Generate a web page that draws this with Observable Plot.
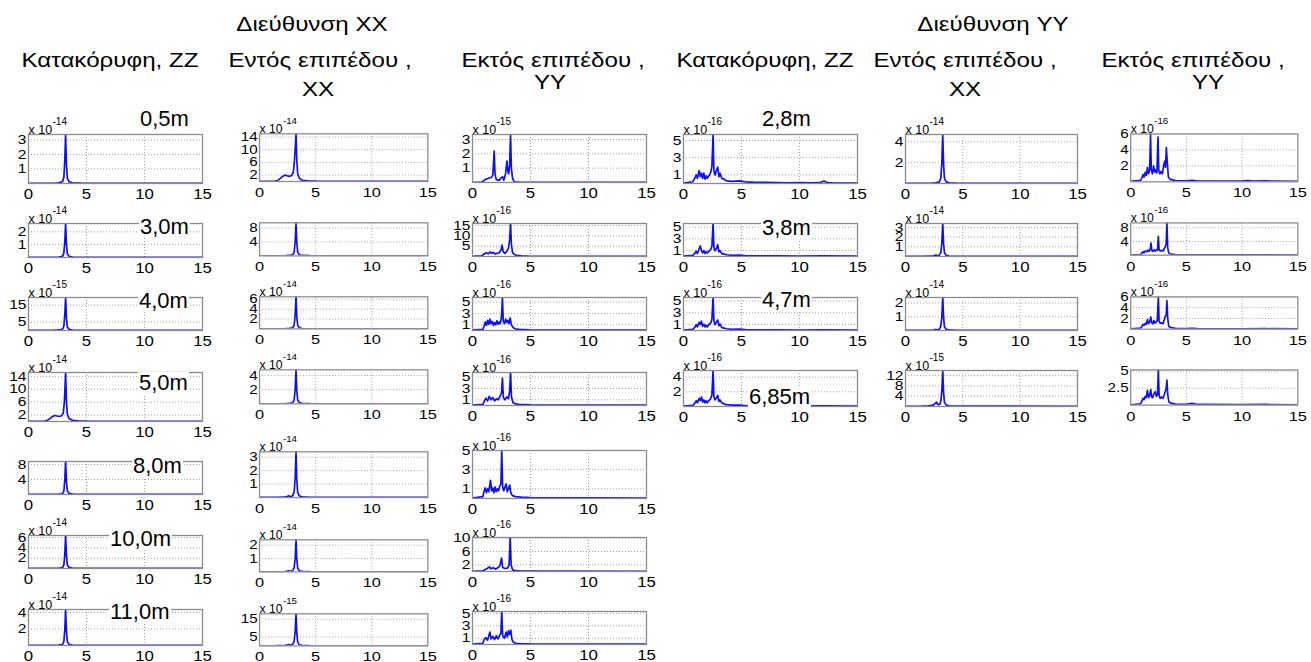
<!DOCTYPE html>
<html>
<head>
<meta charset="utf-8">
<script src="https://cdn.jsdelivr.net/npm/d3@7"></script>
<script src="https://cdn.jsdelivr.net/npm/@observablehq/plot@0.6"></script>
<style>
  html, body { margin: 0; padding: 0; background: #fff; overflow: hidden; }
  #fig { position: relative; width: 1311px; height: 662px; overflow: hidden; background: #fff;
         font-family: 'Liberation Sans', Arial, Helvetica, sans-serif; color: #000; }
  .hdr { position: absolute; width: 320px; text-align: center; font-size: 21px; line-height: 1; white-space: nowrap;
         transform: scaleX(1.15); transform-origin: center; }
  .lbl { position: absolute; font-size: 22px; line-height: 1; background: #fff; padding: 0 1px; white-space: nowrap; }
  .pw { position: absolute; overflow: hidden; }
</style>
</head>
<body>
<div id="fig"></div>
<script>
// ---------------- DATA ----------------
// frequency (Hz), amplitude in units of 10^exponent

// Direction XX — vertical ZZ
const xxZZ_05 = [[0,0.01],[1.5,0.01],[2.3,0.02],[2.6,0.05],[2.8,0.09],[2.95,0.14],[3.05,0.45],[3.13,1.6],[3.2,3.37],[3.27,1.3],[3.35,0.35],[3.5,0.12],[3.8,0.05],[4.5,0.02],[15,0.01]];
const xxZZ_30 = [[0,0.01],[1.5,0.01],[2.3,0.02],[2.6,0.04],[2.8,0.07],[2.95,0.11],[3.05,0.36],[3.13,1.25],[3.2,2.65],[3.27,1.0],[3.35,0.28],[3.5,0.1],[3.8,0.04],[4.5,0.02],[15,0.01]];
const xxZZ_40 = [[0,0.1],[1.5,0.15],[2.3,0.25],[2.6,0.4],[2.8,0.6],[2.95,0.9],[3.05,2.6],[3.13,9.5],[3.2,19.5],[3.27,7.5],[3.35,2.0],[3.5,0.7],[3.8,0.3],[4.5,0.15],[15,0.1]];
const xxZZ_50 = [[0,0.05],[1.3,0.08],[1.6,0.3],[1.85,0.9],[2.05,1.5],[2.25,1.85],[2.45,1.7],[2.65,1.55],[2.85,1.8],[3.0,2.6],[3.1,6.5],[3.2,15.2],[3.27,6.0],[3.35,2.2],[3.5,0.9],[3.8,0.35],[4.3,0.18],[5,0.1],[15,0.05]];
const xxZZ_80 = [[0,0.03],[1.5,0.04],[2.3,0.06],[2.6,0.12],[2.8,0.2],[2.95,0.3],[3.05,0.9],[3.13,3.8],[3.2,8.75],[3.27,3.4],[3.35,0.9],[3.5,0.3],[3.8,0.12],[4.5,0.05],[15,0.03]];
const xxZZ_100 = [[0,0.02],[1.5,0.03],[2.3,0.05],[2.6,0.09],[2.8,0.15],[2.95,0.22],[3.05,0.7],[3.13,2.8],[3.2,6.4],[3.27,2.5],[3.35,0.65],[3.5,0.22],[3.8,0.09],[4.5,0.04],[15,0.02]];
const xxZZ_110 = [[0,0.01],[1.5,0.02],[2.3,0.03],[2.6,0.06],[2.8,0.1],[2.95,0.15],[3.05,0.5],[3.13,1.9],[3.2,4.35],[3.27,1.7],[3.35,0.45],[3.5,0.15],[3.8,0.06],[4.5,0.03],[15,0.01]];

// Direction XX — in-plane XX
const xxIN_1 = [[0,0.05],[1.3,0.08],[1.6,0.3],[1.85,1.0],[2.05,1.6],[2.25,2.0],[2.45,1.8],[2.65,1.6],[2.85,1.9],[3.0,2.8],[3.12,7],[3.25,15.0],[3.32,6.5],[3.4,2.4],[3.55,1.0],[3.8,0.4],[4.3,0.2],[5,0.1],[15,0.05]];
const xxIN_2 = [[0,0.03],[1.5,0.04],[2.3,0.07],[2.6,0.13],[2.8,0.22],[2.95,0.35],[3.08,1.0],[3.17,4.0],[3.25,9.5],[3.32,3.7],[3.4,1.0],[3.55,0.33],[3.8,0.13],[4.5,0.06],[15,0.03]];
const xxIN_3 = [[0,0.02],[1.5,0.03],[2.3,0.05],[2.6,0.09],[2.8,0.15],[2.95,0.24],[3.08,0.7],[3.17,2.8],[3.25,6.5],[3.32,2.5],[3.4,0.7],[3.55,0.23],[3.8,0.09],[4.5,0.04],[15,0.02]];
const xxIN_4 = [[0,0.02],[1.5,0.02],[2.3,0.04],[2.6,0.07],[2.8,0.11],[2.95,0.17],[3.08,0.5],[3.17,2.0],[3.25,4.8],[3.32,1.9],[3.4,0.5],[3.55,0.17],[3.8,0.07],[4.5,0.03],[15,0.02]];
const xxIN_5 = [[0,0.01],[1.5,0.02],[2.3,0.03],[2.5,0.1],[2.6,0.13],[2.7,0.08],[2.85,0.09],[2.95,0.14],[3.08,0.4],[3.17,1.4],[3.25,3.4],[3.32,1.3],[3.4,0.35],[3.55,0.12],[3.8,0.05],[4.5,0.02],[15,0.01]];
const xxIN_6 = [[0,0.01],[1.5,0.01],[2.3,0.02],[2.5,0.06],[2.6,0.08],[2.7,0.05],[2.85,0.06],[2.95,0.1],[3.08,0.3],[3.17,1.0],[3.25,2.4],[3.32,0.95],[3.4,0.25],[3.55,0.09],[3.8,0.04],[4.5,0.02],[15,0.01]];
const xxIN_7 = [[0,0.1],[1.5,0.15],[2.3,0.3],[2.5,0.6],[2.6,0.8],[2.7,0.5],[2.85,0.6],[2.95,0.9],[3.08,2.5],[3.17,8],[3.25,18],[3.32,7],[3.4,2],[3.55,0.7],[3.8,0.3],[4.5,0.15],[15,0.1]];

// Direction XX — out-of-plane YY
const xxOUT_1 = [[0,0],[0.8,0.02],[1.0,0.15],[1.2,0.25],[1.4,0.3],[1.6,0.35],[1.75,0.5],[1.87,2.2],[1.94,0.6],[2.05,0.2],[2.3,0.15],[2.5,0.35],[2.6,0.4],[2.7,0.15],[2.85,0.6],[2.97,1.5],[3.04,0.8],[3.12,0.6],[3.2,1.2],[3.28,3.35],[3.35,1.0],[3.45,0.3],[3.6,0.05],[4,0.02],[15,0.01]];
const xxOUT_2 = [[0,0.1],[0.8,0.3],[1.0,1.2],[1.2,1.8],[1.35,1.3],[1.5,2.2],[1.65,1.6],[1.8,2.0],[1.95,1.2],[2.1,1.5],[2.3,1.8],[2.45,3],[2.55,5.5],[2.65,2.2],[2.8,1.5],[2.95,2.5],[3.1,4],[3.2,8],[3.28,16],[3.35,6],[3.45,2],[3.6,1],[3.8,0.6],[4.2,0.3],[5,0.1],[15,0.05]];
const xxOUT_3 = [[0,0.05],[0.9,0.2],[1.0,0.8],[1.1,1.5],[1.2,0.9],[1.3,1.8],[1.4,1.1],[1.5,2.0],[1.6,1.2],[1.7,1.6],[1.8,0.9],[1.9,1.4],[2.0,1.0],[2.1,1.7],[2.2,1.1],[2.3,1.5],[2.4,1.2],[2.5,2.5],[2.58,5.8],[2.65,1.6],[2.75,1.2],[2.85,2.0],[2.95,1.4],[3.05,1.8],[3.15,1.2],[3.25,2.2],[3.35,1.0],[3.5,0.5],[3.7,0.3],[4.0,0.2],[5,0.1],[15,0.05]];
const xxOUT_4 = [[0,0.05],[0.9,0.2],[1.0,0.7],[1.15,1.3],[1.3,0.8],[1.45,1.6],[1.6,1.0],[1.75,1.4],[1.9,0.8],[2.05,1.2],[2.2,1.0],[2.35,1.5],[2.5,2.2],[2.58,4.8],[2.66,1.4],[2.8,1.0],[2.95,1.5],[3.1,1.2],[3.2,2.5],[3.28,5.8],[3.36,1.5],[3.5,0.5],[3.7,0.3],[4.0,0.2],[5,0.1],[15,0.05]];
const xxOUT_5 = [[0,0.05],[0.9,0.2],[1.0,0.8],[1.1,1.1],[1.2,0.6],[1.3,1.0],[1.4,0.7],[1.55,1.9],[1.65,0.8],[1.75,1.1],[1.85,0.6],[1.95,1.2],[2.05,0.7],[2.15,1.0],[2.25,0.8],[2.35,1.3],[2.45,1.5],[2.52,5.0],[2.6,1.2],[2.7,0.8],[2.8,1.2],[2.9,1.5],[3.0,0.7],[3.1,1.0],[3.2,1.4],[3.3,0.6],[3.45,0.3],[3.7,0.2],[4.2,0.15],[5,0.1],[15,0.05]];
const xxOUT_6 = [[0,0.05],[0.9,0.2],[1.1,0.6],[1.3,1.0],[1.45,1.4],[1.6,0.8],[1.8,1.1],[2.0,0.7],[2.2,1.2],[2.35,1.6],[2.5,4.0],[2.6,1.2],[2.8,0.9],[3.0,1.0],[3.15,1.8],[3.25,10.2],[3.33,2.0],[3.45,0.5],[3.7,0.25],[4.2,0.15],[5,0.1],[15,0.05]];
const xxOUT_7 = [[0,0.05],[0.9,0.2],[1.0,0.8],[1.15,1.1],[1.3,0.7],[1.5,2.0],[1.6,0.9],[1.75,1.3],[1.9,0.8],[2.05,1.4],[2.2,0.9],[2.35,1.5],[2.45,1.8],[2.52,5.3],[2.6,1.4],[2.75,1.0],[2.9,2.0],[3.0,1.2],[3.1,2.2],[3.2,1.6],[3.3,2.3],[3.4,0.8],[3.55,0.3],[3.8,0.2],[4.2,0.15],[5,0.1],[15,0.05]];

// Direction YY — vertical ZZ
const yyZZ_28 = [[0,0.05],[0.8,0.2],[1.0,0.7],[1.1,1.0],[1.2,0.6],[1.35,1.5],[1.45,0.8],[1.55,1.2],[1.65,0.6],[1.75,1.2],[1.85,0.5],[1.95,0.9],[2.05,0.6],[2.2,0.9],[2.35,1.3],[2.45,2.0],[2.55,5.7],[2.62,1.5],[2.72,1.0],[2.85,1.6],[2.95,1.9],[3.05,0.8],[3.15,1.2],[3.3,0.6],[3.5,0.5],[3.7,0.3],[4.2,0.25],[4.8,0.3],[5.3,0.2],[6,0.15],[7,0.12],[8,0.1],[9,0.08],[10,0.1],[11,0.07],[11.8,0.1],[12.1,0.3],[12.4,0.1],[13,0.06],[15,0.05]];
const yyZZ_38 = [[0,0.05],[0.8,0.2],[1.0,0.6],[1.1,0.9],[1.2,0.5],[1.35,1.3],[1.45,1.8],[1.55,1.0],[1.65,0.6],[1.75,1.0],[1.85,0.5],[1.95,0.8],[2.05,0.6],[2.2,0.9],[2.35,1.2],[2.45,1.8],[2.55,5.6],[2.62,1.5],[2.72,1.0],[2.85,1.4],[2.95,2.0],[3.05,0.8],[3.15,1.0],[3.3,0.5],[3.5,0.4],[3.7,0.3],[4.2,0.2],[4.8,0.25],[5.3,0.15],[6,0.12],[8,0.1],[10,0.08],[12,0.1],[15,0.05]];
const yyZZ_47 = [[0,0.05],[0.8,0.2],[1.0,0.6],[1.1,1.0],[1.2,0.6],[1.35,1.4],[1.45,1.0],[1.55,1.6],[1.65,0.7],[1.75,1.1],[1.85,0.6],[1.95,0.9],[2.05,0.6],[2.2,1.0],[2.35,1.3],[2.45,1.9],[2.55,5.6],[2.62,1.6],[2.72,1.0],[2.85,1.5],[2.95,1.8],[3.05,0.8],[3.15,1.1],[3.3,0.5],[3.5,0.4],[3.7,0.3],[4.2,0.2],[4.8,0.25],[5.3,0.15],[6,0.12],[8,0.1],[10,0.08],[12,0.1],[15,0.05]];
const yyZZ_685 = [[0,0.05],[0.8,0.15],[1.0,0.5],[1.1,0.8],[1.2,0.5],[1.35,1.1],[1.45,0.8],[1.55,1.3],[1.65,0.6],[1.75,0.9],[1.85,0.5],[1.95,0.8],[2.05,0.5],[2.2,0.8],[2.35,1.1],[2.45,1.6],[2.55,4.9],[2.62,1.3],[2.72,0.9],[2.85,1.2],[2.95,1.5],[3.05,0.7],[3.15,0.9],[3.3,0.5],[3.5,0.35],[3.7,0.25],[4.2,0.2],[4.8,0.2],[5.3,0.12],[6,0.1],[8,0.08],[10,0.07],[12,0.08],[15,0.05]];

// Direction YY — in-plane XX
const yyIN_1 = [[0,0.01],[1.5,0.02],[2.3,0.03],[2.6,0.06],[2.8,0.1],[2.95,0.16],[3.08,0.5],[3.17,2.0],[3.25,4.7],[3.32,1.8],[3.4,0.5],[3.55,0.16],[3.8,0.06],[4.5,0.03],[15,0.01]];
const yyIN_2 = [[0,0.01],[1.5,0.02],[2.3,0.03],[2.55,0.1],[2.65,0.16],[2.75,0.07],[2.85,0.08],[2.95,0.14],[3.08,0.4],[3.17,1.4],[3.25,3.4],[3.32,1.3],[3.4,0.35],[3.55,0.12],[3.8,0.05],[4.5,0.02],[15,0.01]];
const yyIN_3 = [[0,0.01],[1.5,0.01],[2.3,0.02],[2.55,0.05],[2.65,0.08],[2.75,0.04],[2.85,0.05],[2.95,0.1],[3.08,0.3],[3.17,1.0],[3.25,2.4],[3.32,0.95],[3.4,0.25],[3.55,0.09],[3.8,0.04],[4.5,0.02],[15,0.01]];
const yyIN_4 = [[0,0.1],[1.5,0.2],[2.0,0.3],[2.4,0.5],[2.6,1.2],[2.7,1.7],[2.8,0.8],[2.9,0.7],[3.0,1.0],[3.1,2.5],[3.18,7],[3.25,14],[3.32,5.5],[3.4,1.6],[3.55,0.6],[3.8,0.3],[4.5,0.15],[15,0.1]];

// Direction YY — out-of-plane YY
const yyOUT_1 = [[0,0.05],[0.9,0.2],[1.0,0.5],[1.1,0.9],[1.2,0.6],[1.3,1.2],[1.4,0.8],[1.5,1.8],[1.6,1.0],[1.7,1.5],[1.78,6.0],[1.85,1.5],[1.95,1.0],[2.05,2.0],[2.15,1.2],[2.25,1.5],[2.35,1.1],[2.45,5.6],[2.52,1.4],[2.62,1.0],[2.72,1.3],[2.85,1.0],[2.95,2.0],[3.05,2.6],[3.12,1.8],[3.2,4.3],[3.28,2.5],[3.38,0.6],[3.55,0.3],[4,0.15],[5,0.12],[5.5,0.2],[6,0.1],[10,0.08],[10.5,0.15],[11,0.08],[12,0.12],[15,0.05]];
const yyOUT_2 = [[0,0.05],[0.9,0.2],[1.0,0.6],[1.1,1.0],[1.2,0.7],[1.3,1.2],[1.45,1.0],[1.55,1.5],[1.65,1.1],[1.75,1.7],[1.82,3.5],[1.9,1.3],[2.0,1.1],[2.1,1.6],[2.2,1.2],[2.3,1.5],[2.4,1.4],[2.48,5.5],[2.55,1.6],[2.65,1.2],[2.75,1.4],[2.9,1.2],[3.0,1.8],[3.1,2.4],[3.18,3.2],[3.25,9.4],[3.32,2.2],[3.42,0.6],[3.6,0.3],[4,0.15],[5,0.12],[6,0.1],[10,0.08],[12,0.1],[15,0.05]];
const yyOUT_3 = [[0,0.05],[0.9,0.2],[1.0,0.5],[1.1,0.9],[1.2,0.7],[1.3,1.1],[1.4,0.9],[1.5,1.8],[1.6,1.0],[1.7,1.3],[1.8,2.3],[1.88,1.2],[1.98,1.0],[2.08,1.6],[2.18,1.1],[2.28,1.4],[2.38,1.5],[2.48,6.0],[2.55,1.5],[2.65,1.1],[2.75,1.2],[2.9,1.0],[3.0,1.6],[3.1,2.4],[3.18,2.6],[3.25,5.3],[3.32,2.0],[3.42,0.5],[3.6,0.3],[4,0.15],[5,0.12],[5.5,0.18],[6,0.1],[10,0.08],[12,0.1],[15,0.05]];
const yyOUT_4 = [[0,0.05],[0.9,0.2],[1.0,0.6],[1.1,1.0],[1.2,0.8],[1.3,1.3],[1.4,1.1],[1.5,2.2],[1.6,1.1],[1.7,1.4],[1.8,2.3],[1.88,1.2],[1.98,1.1],[2.08,1.7],[2.2,2.0],[2.3,1.3],[2.4,1.5],[2.48,5.2],[2.55,1.4],[2.65,1.0],[2.75,1.2],[2.9,1.0],[3.0,1.5],[3.1,2.0],[3.18,2.4],[3.25,3.7],[3.32,1.6],[3.42,0.5],[3.6,0.3],[4,0.15],[5,0.12],[5.5,0.25],[6,0.1],[10,0.08],[12,0.1],[15,0.05]];

// tick values and 10^exponent of each small plot (null = exponent not printed)
const ticksXX_ZZ = [[1,2,3],[1,2],[5,15],[2,6,10,14],[4,8],[2,4,6],[2,4]];
const expXX_ZZ   = [-14,-14,-15,-14,null,-14,-14];
const ticksXX_IN = [[2,6,10,14],[4,8],[2,4,6],[2,4],[1,2,3],[1,2],[5,15]];
const expXX_IN   = [-14,null,-14,-14,-14,-14,-15];
const ticksXX_OUT = [[1,2,3],[5,10,15],[1,3,5],[1,3,5],[1,3,5],[2,6,10],[1,3,5]];
const expXX_OUT   = [-15,-16,-16,-16,-16,-16,-16];
const ticksYY_ZZ = [[1,3,5],[1,3,5],[1,3,5],[2,4]];
const expYY_ZZ   = [-16,null,-16,-16];
const ticksYY_IN = [[2,4],[1,2,3],[1,2],[4,8,12]];
const expYY_IN   = [-14,-14,-14,-15];
const ticksYY_OUT = [[2,4,6],[4,8],[2,4,6],[2.5,5]];
const expYY_OUT   = [-16,-16,-16,null];
const xTicks = [0,5,10,15];

// text
const heightsXX = ["0,5m","3,0m","4,0m","5,0m","8,0m","10,0m","11,0m"];
const heightsYY = ["2,8m","3,8m","4,7m","6,85m"];
const dirTitles = ["Διεύθυνση XX","Διεύθυνση YY"];
const compTitles = ["Κατακόρυφη, ZZ","Εντός επιπέδου ,","Εκτός επιπέδου ,"];
const compSecond = ["","XX","YY"];

// ---------------- LAYOUT (pixel boxes of each plot frame) ----------------
const colX = [[28,202],[260,433],[472,646],[683,857],[905,1077],[1131,1302]];
const colClip = [null,441,null,null,null,1311];
const rowY = [
  [[134,183],[223,257],[297,330],[372,421],[461,494],[535,568],[609,645]],
  [[134,183],[223,257],[297,330],[370,405],[452,499],[540,573],[614,647]],
  [[134,182],[223,256],[297,330],[372,405],[450,498],[537,571],[611,644]],
  [[134,183],[223,256],[297,330],[370,406]],
  [[134,183],[223,256],[297,330],[370,406]],
  [[134,183],[223,256],[297,330],[370,406]]
];

const columns = [
  {series:[xxZZ_05,xxZZ_30,xxZZ_40,xxZZ_50,xxZZ_80,xxZZ_100,xxZZ_110], ticks:ticksXX_ZZ, exp:expXX_ZZ},
  {series:[xxIN_1,xxIN_2,xxIN_3,xxIN_4,xxIN_5,xxIN_6,xxIN_7], ticks:ticksXX_IN, exp:expXX_IN},
  {series:[xxOUT_1,xxOUT_2,xxOUT_3,xxOUT_4,xxOUT_5,xxOUT_6,xxOUT_7], ticks:ticksXX_OUT, exp:expXX_OUT},
  {series:[yyZZ_28,yyZZ_38,yyZZ_47,yyZZ_685], ticks:ticksYY_ZZ, exp:expYY_ZZ},
  {series:[yyIN_1,yyIN_2,yyIN_3,yyIN_4], ticks:ticksYY_IN, exp:expYY_IN},
  {series:[yyOUT_1,yyOUT_2,yyOUT_3,yyOUT_4], ticks:ticksYY_OUT, exp:expYY_OUT}
];

const FONT = "'Liberation Sans', Arial, Helvetica, sans-serif";
const fig = document.getElementById("fig");
const mL = 34, mR = 14, mT = 24, mB = 18;
const TICK_STRETCH = 1.2;

// widen tick-label glyphs horizontally (the reference figure is horizontally stretched)
function stretchTickLabels(svg) {
  svg.querySelectorAll('g[aria-label$="tick label"] text').forEach(t => {
    const tr = t.getAttribute("transform");
    if (tr) {
      t.setAttribute("transform", tr + ` scale(${TICK_STRETCH},1)`);
    } else {
      const x = +(t.getAttribute("x") || 0), y = +(t.getAttribute("y") || 0);
      t.removeAttribute("x"); t.removeAttribute("y");
      t.setAttribute("transform", `translate(${x},${y}) scale(${TICK_STRETCH},1)`);
    }
  });
}

function panel(series, ticks, exp, xb, yb, clipRight) {
  const w = xb[1] - xb[0] + mL + mR;
  const h = yb[1] - yb[0] + mT + mB;
  const ymax = d3.max(series, d => d[1]);
  const marks = [
    Plot.gridX({ticks: [5, 10], stroke: "#a0a0a0", strokeOpacity: 1, strokeDasharray: "1,2"}),
    Plot.gridY({ticks, stroke: "#a0a0a0", strokeOpacity: 1, strokeDasharray: "1,2"}),
    Plot.line(series, {x: d => d[0], y: d => d[1], stroke: "#1010e8", strokeWidth: 1.7, clip: true}),
    Plot.frame({stroke: "#8a8a8a", strokeWidth: 1.3}),
    Plot.axisX({ticks: xTicks, tickSize: 0, tickPadding: 6, fontSize: 14, tickFormat: d => String(d), label: null}),
    Plot.axisY({ticks, tickSize: 0, tickPadding: 2, fontSize: 13, tickFormat: d => String(d), label: null})
  ];
  if (exp !== null) {
    marks.push(
      Plot.text(["x 10"], {text: d => d, frameAnchor: "top-left", textAnchor: "start", lineAnchor: "bottom", dy: -1, fontSize: 12.5}),
      Plot.text([String(exp)], {text: d => d, frameAnchor: "top-left", textAnchor: "start", lineAnchor: "bottom", dx: 24, dy: -10, fontSize: 10})
    );
  }
  const svg = Plot.plot({
    width: w, height: h,
    marginLeft: mL, marginRight: mR, marginTop: mT, marginBottom: mB,
    x: {domain: [0, 15]},
    y: {domain: [0, ymax]},
    style: {fontFamily: FONT, background: "transparent", color: "#000", overflow: "visible"},
    marks
  });
  stretchTickLabels(svg);
  const left = xb[0] - mL, top = yb[0] - mT;
  const wrap = document.createElement("div");
  wrap.className = "pw";
  wrap.style.left = left + "px";
  wrap.style.top = top + "px";
  wrap.style.width = (clipRight ? Math.min(w, clipRight - left) : w) + "px";
  wrap.style.height = h + "px";
  wrap.appendChild(svg);
  fig.appendChild(wrap);
}

columns.forEach((c, ci) => {
  c.series.forEach((s, ri) => {
    panel(s, c.ticks[ri], c.exp[ri], colX[ci], rowY[ci][ri], colClip[ci]);
  });
});

// headers
function addText(cls, txt, x, y) {
  const d = document.createElement("div");
  d.className = cls;
  d.textContent = txt;
  d.style.top = y + "px";
  d.style.left = (cls === "hdr" ? x - 160 : x) + "px";
  fig.appendChild(d);
}
const hdrCenters = [110, 320, 553, 765, 965, 1193];
const secondCenters = [null, 318, 550, null, 965, 1208];
const secondTops = [null, 78, 71, null, 78, 71];
addText("hdr", dirTitles[0], 312, 13);
addText("hdr", dirTitles[1], 993, 13);
hdrCenters.forEach((cx, i) => {
  addText("hdr", compTitles[i % 3], cx, 49);
  if (compSecond[i % 3]) addText("hdr", compSecond[i % 3], secondCenters[i], secondTops[i]);
});

// height labels
const lblXX = [[139,108],[139,216],[138,290],[138,372],[132,455],[109,528],[109,601]];
const lblYY = [[761,108],[761,217],[761,289],[748,386]];
heightsXX.forEach((t, i) => addText("lbl", t, lblXX[i][0], lblXX[i][1]));
heightsYY.forEach((t, i) => addText("lbl", t, lblYY[i][0], lblYY[i][1]));
</script>
</body>
</html>
